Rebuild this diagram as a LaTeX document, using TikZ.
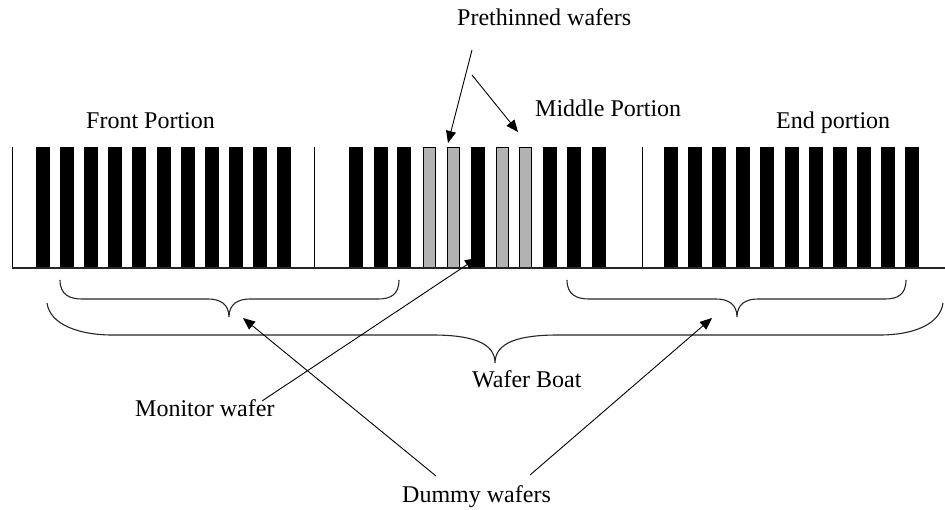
\documentclass[tikz,border=0pt]{standalone}
\usepackage{fontspec}
\setmainfont{Liberation Serif}
\usetikzlibrary{arrows.meta}
\begin{document}
\begin{tikzpicture}[x=1pt,y=-1pt,
 lbl/.style={font=\fontsize{24}{28}\selectfont, inner sep=0pt, anchor=base west},
 blackwafer/.style={fill=black},
 graywafer/.style={fill=black!30, draw=black, line width=0.8pt},
 post/.style={line width=1pt, draw=black},
 bracepath/.style={line width=1.1pt, draw=black!85},
 ptr/.style={line width=0.9pt, -{Triangle[length=12pt,width=10pt]}}]
\useasboundingbox (0,0) rectangle (945,510);
\fill[white] (0,0) rectangle (945,510);
% wafers
\foreach \i in {0,...,10} \fill[blackwafer] (36+24.1*\i,147) rectangle ++(14,121);
\foreach \x in {349,374,397,471,543,567,592} \fill[blackwafer] (\x,147) rectangle ++(14,121);
\foreach \x in {423,447,496,519} \filldraw[graywafer] (\x,147) rectangle ++(12,121);
\foreach \i in {0,...,10} \fill[blackwafer] (664+24.1*\i,147) rectangle ++(14,121);
% posts and base
\draw[post] (12,147) -- (12,268);
\draw[post] (314,147) -- (314,268);
\draw[post] (642,147) -- (642,268);
\draw[line width=1.5pt, draw=black!85] (12,268) -- (945,268);
% braces
\draw[bracepath] (60,280) .. controls (60,295) and (70,299) .. (82,299) -- (208,299)
  .. controls (220,299) and (229,304) .. (229,317)
  .. controls (229,304) and (238,299) .. (250,299) -- (378,299)
  .. controls (390,299) and (399,295) .. (399,280);
\draw[bracepath] (567,280) .. controls (567,295) and (577,299) .. (589,299) -- (716,299)
  .. controls (728,299) and (737,304) .. (737,317)
  .. controls (737,304) and (746,299) .. (758,299) -- (885,299)
  .. controls (897,299) and (906,295) .. (906,280);
\draw[bracepath] (47,303) .. controls (50,325) and (80,335) .. (112,335) -- (432,335)
  .. controls (470,335) and (495,342) .. (495,363)
  .. controls (495,342) and (520,335) .. (558,335) -- (880,335)
  .. controls (912,335) and (940,325) .. (943,303);
% labels
\node[lbl] (pre) at (457,26) {Prethinned wafers};
\node[lbl] (mid) at (535,117) {Middle Portion};
\node[lbl] (front) at (86,129) {Front Portion};
\node[lbl] (endp) at (776,129) {End portion};
\node[lbl] (boat) at (472,388) {Wafer Boat};
\node[lbl] (mon) at (135,417) {Monitor wafer};
\node[lbl] (dum) at (402,502) {Dummy wafers};
% arrow coordinates
\coordinate (preA) at (472,50);
\coordinate (preB) at (472,75);
\coordinate (preTipA) at (448,143);
\coordinate (preTipB) at (518,132);
\coordinate (monA) at (262,401);
\coordinate (monTip) at (477,258);
\coordinate (dumA) at (436,476);
\coordinate (dumB) at (530,475);
\coordinate (dumTipA) at (243,318);
\coordinate (dumTipB) at (712,318);
\draw[ptr] (preA) -- (preTipA);
\draw[ptr] (preB) -- (preTipB);
\draw[ptr] (monA) -- (monTip);
\draw[ptr] (dumA) -- (dumTipA);
\draw[ptr] (dumB) -- (dumTipB);
\end{tikzpicture}
\end{document}
